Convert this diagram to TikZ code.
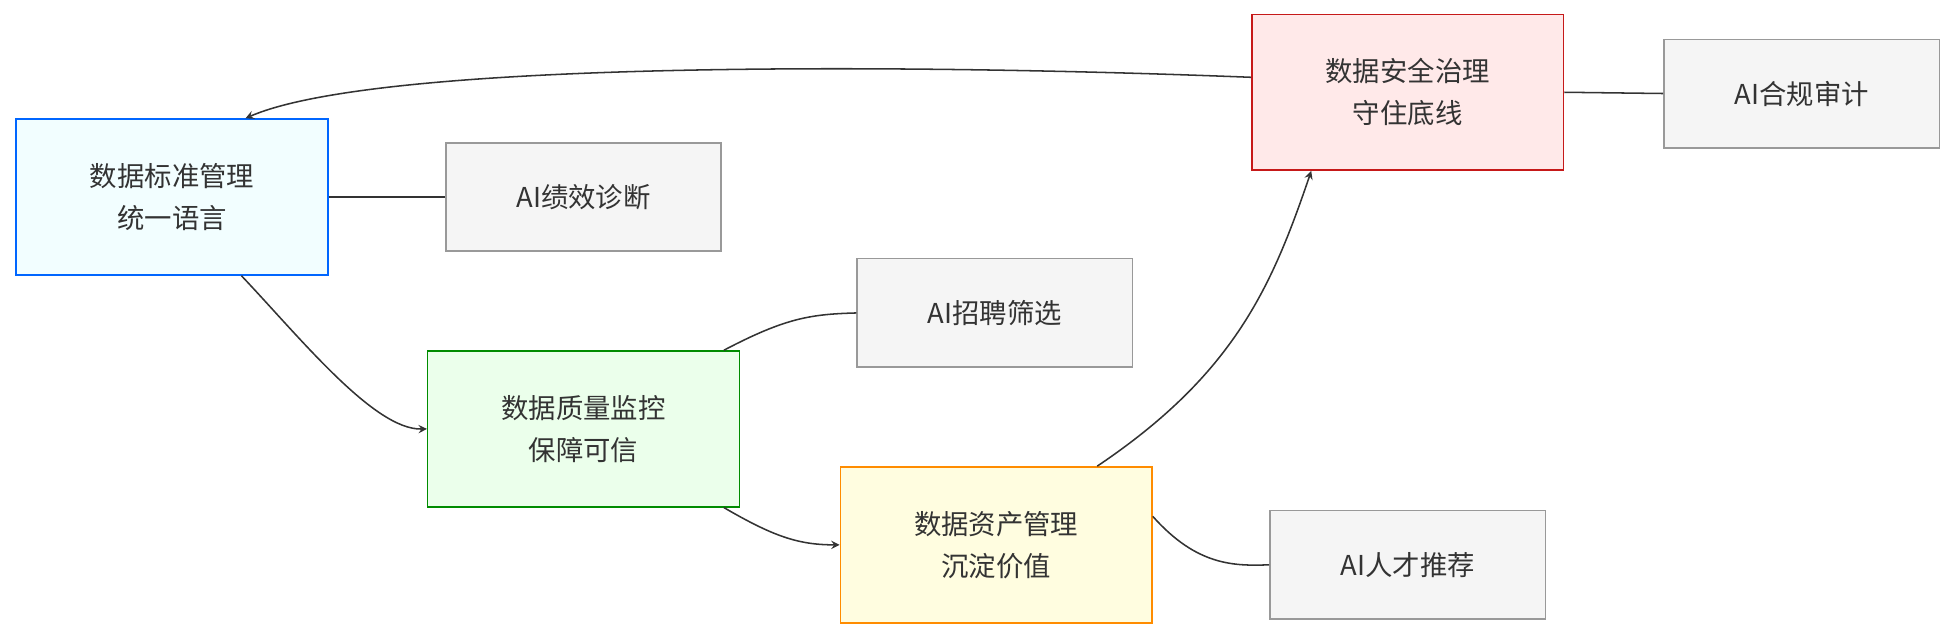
\documentclass[tikz,border=0pt]{standalone}
\usepackage{fontspec}
\setmainfont{Noto Sans CJK SC}
\usetikzlibrary{arrows}
\definecolor{edgegray}{HTML}{333333}
\begin{document}
\begin{tikzpicture}
  [
    >=stealth,
    x=0.02cm, y=-0.02cm,
    every node/.style={font=\fontsize{12.5}{19}\selectfont, text=edgegray, align=center},
    stage/.style={draw, line width=0.7pt, minimum width=5cm, minimum height=2.5cm},
    ai/.style={draw=black!40, fill=black!4, line width=0.7pt, minimum width=4.42cm, minimum height=1.74cm},
    link/.style={draw=edgegray, line width=0.7pt},
  ]
  \useasboundingbox (0,0) rectangle (1568,513);
  \node [stage, draw=blue!60!cyan, fill=blue!8!cyan!5] (std) at (138,158) {数据标准管理\\统一语言};
  \node [ai] (perf) at (468,158) {AI绩效诊断};
  \node [stage, draw=green!55!black, fill=green!8] (qual) at (468,344) {数据质量监控\\保障可信};
  \node [ai] (hire) at (798,251) {AI招聘筛选};
  \node [stage, draw=orange!90!yellow, fill=yellow!12] (asset) at (799,437) {数据资产管理\\沉淀价值};
  \node [ai] (talent) at (1129,453) {AI人才推荐};
  \node [stage, draw=red!75!black!90, fill=pink!35] (sec) at (1129,74) {数据安全治理\\守住底线};
  \node [ai] (audit) at (1445,75) {AI合规审计};
  % flow
  \draw [link,->] (std.south east) ++(-70,0) .. controls (240,270) and (300,345) .. (qual.west);
  \draw [link,->] (qual.south east) ++(-13,0) .. controls (620,430) and (640,437) .. (asset.west);
  \draw [link,->] (asset.north) ++(81,0) .. controls (990,300) and (1020,230) .. ([xshift=-44]sec.south);
  \draw [link,->] (sec.west) ++(0,-12) .. controls (700,50) and (300,50) .. ([xshift=105]std.north west);
  % ai links
  \draw [link] (std.east) -- (perf.west);
  \draw [link] (qual.north east) ++(-13,0) .. controls (630,255) and (650,252) .. (hire.west);
  \draw [link] ([yshift=13]asset.east) .. controls (960,454) and (990,454) .. (talent.west);
  \draw [link] (sec.east) -- (audit.west);
\end{tikzpicture}
\end{document}
